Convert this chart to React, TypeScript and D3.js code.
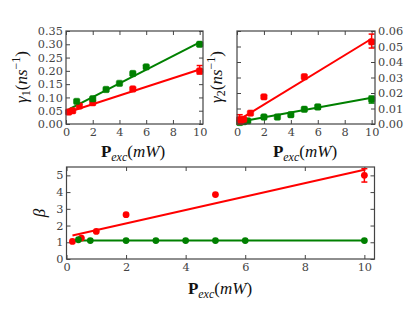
import React, { useEffect, useRef } from 'react';
import * as d3 from 'd3';

// power (mW) and measured values
const g1RedX = [0.2, 0.5, 1, 2, 5, 10];
const g1RedY = [0.045, 0.05, 0.068, 0.08, 0.132, 0.2];
const g1GreenX = [0.8, 2, 3, 4, 5, 6, 10];
const g1GreenY = [0.085, 0.095, 0.13, 0.153, 0.19, 0.215, 0.3];
const g1RedErr = [{ x: 10, lo: 0.188, hi: 0.22 }];
const g1GreenErr = [{ x: 10, lo: 0.293, hi: 0.306 }];
const g1FitX = [0.2, 10];
const g1RedFit = [0.045, 0.205];
const g1GreenFit = [0.055, 0.307];

const g2RedX = [0.2, 0.3, 0.5, 1, 2, 5, 10];
const g2RedY = [0.003, 0.002, 0.003, 0.007, 0.0175, 0.0305, 0.053];
const g2GreenX = [0.2, 0.5, 0.8, 2, 3, 4, 5, 6, 10];
const g2GreenY = [0.001, 0.0015, 0.002, 0.0045, 0.0045, 0.006, 0.0095, 0.011, 0.016];
const g2RedErr = [{ x: 0.2, lo: 0.0, hi: 0.006 }, { x: 10, lo: 0.049, hi: 0.058 }];
const g2GreenErr = [{ x: 10, lo: 0.0135, hi: 0.018 }, { x: 6, lo: 0.0095, hi: 0.0125 }];
const g2FitX = [0.2, 10];
const g2RedFit = [0.003, 0.055];
const g2GreenFit = [0.0015, 0.017];

const betaRedX = [0.2, 0.5, 1, 2, 5, 10];
const betaRedY = [1.05, 1.25, 1.65, 2.65, 3.85, 5.0];
const betaGreenX = [0.4, 0.8, 2, 3, 4, 5, 6, 10];
const betaGreenY = [1.15, 1.1, 1.1, 1.1, 1.1, 1.1, 1.1, 1.1];
const betaRedErr = [{ x: 10, lo: 4.6, hi: 5.4 }];
const betaFitX = [0.2, 10];
const betaRedFit = [1.4, 5.33];
const betaGreenFit = [1.1, 1.1];

const xTicks = [0, 2, 4, 6, 8, 10];
const g1Ticks = [0, 0.05, 0.1, 0.15, 0.2, 0.25, 0.3, 0.35];
const g2Ticks = [0, 0.01, 0.02, 0.03, 0.04, 0.05, 0.06];
const betaTicks = [0, 1, 2, 3, 4, 5];

const RED = '#ff0000';
const GREEN = '#008000';
const FONT = '"Liberation Serif", "DejaVu Serif", serif';
const TICK_FONT = '"DejaVu Serif", serif';

type Err = { x: number; lo: number; hi: number };
type Series = { xs: number[]; ys: number[]; err: Err[]; fit: number[]; color: string };

function drawPanel(svg: any, box: any, xMax: number, yMax: number, yTicks: number[], fmt: (d: number) => string, yRight: boolean, fitX: number[], series: Series[], marker: string) {
  const x = d3.scaleLinear().domain([0, xMax]).range([box.left, box.left + box.w]);
  const y = d3.scaleLinear().domain([0, yMax]).range([box.top + box.h, box.top]);
  const g = svg.append('g');

  const styleAxis = (sel: any) => {
    sel.select('.domain').remove();
    sel.selectAll('line').attr('stroke', '#444').attr('stroke-width', 1);
    sel.selectAll('text').attr('font-family', TICK_FONT).attr('font-size', 11.3).attr('fill', '#444');
  };

  g.append('g').attr('transform', `translate(0,${box.top + box.h})`)
    .call(d3.axisBottom(x).tickValues(xTicks).tickSize(-4).tickPadding(4).tickFormat(d3.format('d'))).call(styleAxis);
  g.append('g').attr('transform', `translate(0,${box.top})`)
    .call(d3.axisTop(x).tickValues(xTicks).tickSize(-4).tickFormat(() => '')).call(styleAxis);
  const yl = yRight ? d3.axisRight(y) : d3.axisLeft(y);
  const yo = yRight ? d3.axisLeft(y) : d3.axisRight(y);
  g.append('g').attr('transform', `translate(${yRight ? box.left + box.w : box.left},0)`)
    .call(yl.tickValues(yTicks).tickSize(-4).tickPadding(3).tickFormat(fmt as any)).call(styleAxis);
  g.append('g').attr('transform', `translate(${yRight ? box.left : box.left + box.w},0)`)
    .call(yo.tickValues(yTicks).tickSize(-4).tickFormat(() => '')).call(styleAxis);

  series.forEach((s) => {
    g.append('path')
      .attr('d', d3.line<number>().x((d, i) => x(fitX[i])).y((d) => y(d))(s.fit))
      .attr('fill', 'none').attr('stroke', s.color).attr('stroke-width', 2);
  });
  series.forEach((s) => {
    s.err.forEach((e) => {
      const eg = g.append('g').attr('stroke', s.color).attr('stroke-width', 1.5);
      eg.append('line').attr('x1', x(e.x)).attr('x2', x(e.x)).attr('y1', y(e.lo)).attr('y2', y(e.hi));
      eg.append('line').attr('x1', x(e.x) - 3).attr('x2', x(e.x) + 3).attr('y1', y(e.lo)).attr('y2', y(e.lo));
      eg.append('line').attr('x1', x(e.x) - 3).attr('x2', x(e.x) + 3).attr('y1', y(e.hi)).attr('y2', y(e.hi));
    });
    const pts = s.xs.map((v, i) => [v, s.ys[i]]);
    if (marker === 'square') {
      g.selectAll(null).data(pts).join('rect')
        .attr('x', (d: number[]) => x(d[0]) - 3.2).attr('y', (d: number[]) => y(d[1]) - 3.2)
        .attr('width', 6.4).attr('height', 6.4).attr('rx', 1.5)
        .attr('fill', s.color).attr('stroke', s.color).attr('stroke-width', 0.5);
    } else {
      g.selectAll(null).data(pts).join('circle')
        .attr('cx', (d: number[]) => x(d[0])).attr('cy', (d: number[]) => y(d[1])).attr('r', 3.4)
        .attr('fill', s.color);
    }
  });

  g.append('rect').attr('x', box.left).attr('y', box.top).attr('width', box.w).attr('height', box.h)
    .attr('fill', 'none').attr('stroke', '#444').attr('stroke-width', 1.2);
}

function PexcLabel({ x, y }: { x: number; y: number }) {
  return (
    <text x={x} y={y} textAnchor="middle" fontFamily={FONT} fontSize={17} fill="#111">
      <tspan fontWeight="bold">P</tspan>
      <tspan fontStyle="italic" fontSize={12} dy={4}>exc</tspan>
      <tspan dy={-4}>(</tspan>
      <tspan fontStyle="italic">mW</tspan>
      <tspan>)</tspan>
    </text>
  );
}

function GammaLabel({ x, y, n }: { x: number; y: number; n: string }) {
  return (
    <text transform={`translate(${x},${y}) rotate(-90)`} textAnchor="middle" fontFamily={FONT} fontSize={17} fill="#111">
      <tspan fontStyle="italic">γ</tspan>
      <tspan fontSize={12} dy={3}>{n}</tspan>
      <tspan dy={-3}>(</tspan>
      <tspan fontStyle="italic">ns</tspan>
      <tspan fontSize={12} dy={-7}>−1</tspan>
      <tspan dy={7}>)</tspan>
    </text>
  );
}

export default function App() {
  const ref = useRef<SVGSVGElement>(null);
  useEffect(() => {
    const svg = d3.select(ref.current).select('.plots');
    svg.selectAll('*').remove();
    drawPanel(svg, { left: 66, top: 31, w: 137, h: 93 }, 10.25, 0.35, g1Ticks, d3.format('.2f'), false, g1FitX, [
      { xs: g1RedX, ys: g1RedY, err: g1RedErr, fit: g1RedFit, color: RED },
      { xs: g1GreenX, ys: g1GreenY, err: g1GreenErr, fit: g1GreenFit, color: GREEN },
    ], 'square');
    drawPanel(svg, { left: 237, top: 31, w: 138, h: 93 }, 10.25, 0.06, g2Ticks, d3.format('.2f'), true, g2FitX, [
      { xs: g2GreenX, ys: g2GreenY, err: g2GreenErr, fit: g2GreenFit, color: GREEN },
      { xs: g2RedX, ys: g2RedY, err: g2RedErr, fit: g2RedFit, color: RED },
    ], 'square');
    drawPanel(svg, { left: 66.5, top: 167, w: 308, h: 92 }, 10.34, 5.5, betaTicks, d3.format('d'), false, betaFitX, [
      { xs: betaRedX, ys: betaRedY, err: betaRedErr, fit: betaRedFit, color: RED },
      { xs: betaGreenX, ys: betaGreenY, err: [], fit: betaGreenFit, color: GREEN },
    ], 'circle');
  }, []);
  return (
    <svg ref={ref} width={415} height={309} style={{ position: 'absolute', left: 0, top: 0, background: '#fff' }}>
      <g className="plots" />
      <GammaLabel x={27} y={77} n="1" />
      <GammaLabel x={222} y={77} n="2" />
      <text transform="translate(45,213) rotate(-90)" textAnchor="middle" fontFamily={FONT} fontSize={17} fontStyle="italic" fill="#111">β</text>
      <PexcLabel x={133} y={157} />
      <PexcLabel x={305} y={157} />
      <PexcLabel x={220} y={294} />
    </svg>
  );
}
